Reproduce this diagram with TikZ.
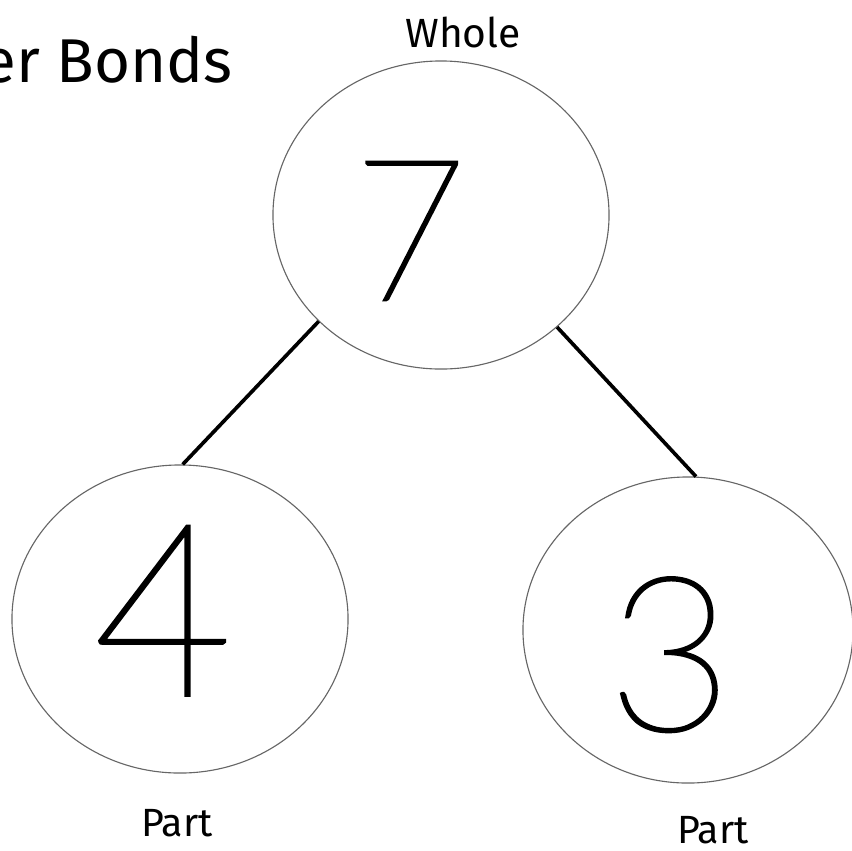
\documentclass[tikz,border=0pt]{standalone}
\usepackage{fontspec}
\setmainfont{Fira Sans}
\newfontfamily\digitfont[FakeBold=1.5]{Lato Hairline}
\usetikzlibrary{shapes.geometric,calc}

\begin{document}
\begin{tikzpicture}[
  x=0.025cm, y=-0.025cm,
  bond/.style={draw=black!60, ellipse, line width=0.8pt, inner sep=0pt,
               minimum width=8.4cm, minimum height=7.7cm},
  digit/.style={anchor=base, font=\digitfont\fontsize{#1}{#1}\selectfont},
  lab/.style={anchor=base, inner sep=1pt, font=\fontsize{#1}{#1}\selectfont},
  link/.style={draw=black, line width=2.6pt}
]
\useasboundingbox (0,0) rectangle (852,850);

\node[bond] (whole) at (441,215) {};
\node[bond] (left) at (180,619) {};
\node[bond, minimum width=8.25cm, minimum height=7.65cm] (right) at (688,630) {};

\node[digit=140pt] (seven) at ($(whole.center)+(-31,85)$) {7};
\node[digit=171pt] (four) at ($(left.center)+(-17,76)$) {4};
\node[digit=153pt] (three) at ($(right.center)+(-18,100)$) {3};

\node[lab=44pt, anchor=base east] (title) at (234,82) {er Bonds};
\node[lab=29pt] (wlab) at (463,47) {Whole};
\node[lab=28pt] (plab1) at (177,836) {Part};
\node[lab=28pt] (plab2) at (713,843) {Part};

\draw[link] (whole.221) -- (left.89);
\draw[link] (whole.316) -- (right.87);
\end{tikzpicture}
\end{document}
